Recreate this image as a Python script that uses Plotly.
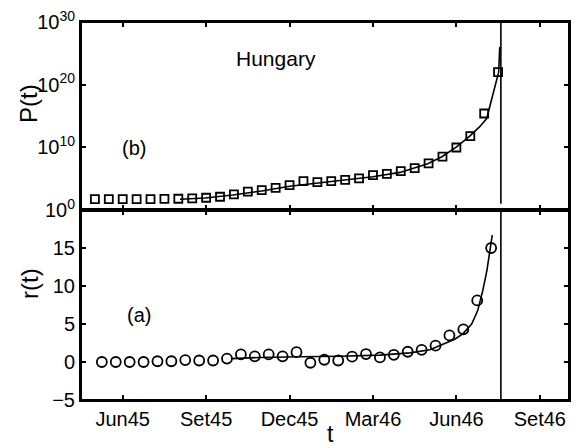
import plotly.graph_objects as go

# time in months since Jun 1945
t_P = [-1.0, -0.5, 0.0, 0.5, 1.0, 1.5, 2.0, 2.5, 3.0, 3.5, 4.0, 4.5, 5.0, 5.5, 6.0,
       6.5, 7.0, 7.5, 8.0, 8.5, 9.0, 9.5, 10.0, 10.5, 11.0, 11.5, 12.0, 12.5, 13.0, 13.5]
P_vals = [5.6e1, 5.6e1, 5.6e1, 5.6e1, 5.6e1, 5.9e1, 6.3e1, 7.2e1, 9.1e1, 1.3e2,
          3.2e2, 8.3e2, 1.5e3, 3.5e3, 9.5e3, 4.0e4, 2.9e4, 4.0e4, 6.3e4, 1.1e5,
          3.7e5, 6.0e5, 1.6e6, 5.0e6, 2.7e7, 3.2e8, 9.5e9, 6.3e11, 2.5e15, 1.0e22]

t_r = [-0.75, -0.25, 0.25, 0.75, 1.25, 1.75, 2.25, 2.75, 3.25, 3.75, 4.25, 4.75, 5.25,
       5.75, 6.25, 6.75, 7.25, 7.75, 8.25, 8.75, 9.25, 9.75, 10.25, 10.75, 11.25, 11.75,
       12.25, 12.75, 13.25]
r_vals = [0.0, 0.0, 0.0, 0.0, 0.1, 0.1, 0.25, 0.2, 0.2, 0.45, 1.0, 0.75, 1.0, 0.75, 1.3,
          -0.1, 0.3, 0.2, 0.7, 1.05, 0.6, 0.95, 1.35, 1.6, 2.15, 3.5, 4.3, 8.1, 15.0]

# fitted curves
fitP_t = [2.06, 2.96, 3.96, 5.0, 6.01, 6.98, 7.99, 9.0, 9.97, 10.97, 11.48, 12.02,
          12.48, 12.84, 13.09, 13.52, 13.56]
fitP_v = [5.2e1, 8.3e1, 2.5e2, 1.1e3, 6.3e3, 2.0e4, 5.6e4, 2.0e5, 1.0e6, 2.5e7,
          3.2e8, 1.3e10, 6.3e11, 2.0e13, 4.0e14, 1.0e22, 1.0e26]
fitr_t = [3.93, 4.93, 6.37, 7.81, 9.25, 10.33, 11.05, 11.51, 11.94, 12.23, 12.55,
          12.77, 12.95, 13.1, 13.2, 13.29]
fitr_v = [0.45, 0.6, 0.7, 0.75, 0.9, 1.2, 1.6, 2.3, 3.0, 3.7, 5.0, 6.8, 9.4, 12.1,
          14.3, 16.7]

t_end = 13.6

xtick_vals = [0, 3, 6, 9, 12, 15]
xtick_text = ["Jun45", "Set45", "Dec45", "Mar46", "Jun46", "Set46"]
ptick_vals = [1, 1e10, 1e20, 1e30]
ptick_text = ["10<sup>0</sup>", "10<sup>10</sup>", "10<sup>20</sup>", "10<sup>30</sup>"]
rtick_vals = [-5, 0, 5, 10, 15]

FONT = "Liberation Sans, Arial, Helvetica, sans-serif"

fig = go.Figure()

# top panel (P)
fig.add_trace(go.Scatter(x=fitP_t, y=fitP_v, mode="lines",
                         line=dict(color="black", width=1.6),
                         xaxis="x2", yaxis="y2", showlegend=False))
fig.add_trace(go.Scatter(x=t_P, y=P_vals, mode="markers",
                         marker=dict(symbol="square-open", size=8, color="black",
                                     line=dict(width=1.8, color="black")),
                         xaxis="x2", yaxis="y2", showlegend=False))
fig.add_trace(go.Scatter(x=[t_end, t_end], y=[1e1, 1e30], mode="lines",
                         line=dict(color="black", width=1.6),
                         xaxis="x2", yaxis="y2", showlegend=False))

# bottom panel (r)
fig.add_trace(go.Scatter(x=fitr_t, y=fitr_v, mode="lines",
                         line=dict(color="black", width=1.6),
                         xaxis="x", yaxis="y", showlegend=False))
fig.add_trace(go.Scatter(x=t_r, y=r_vals, mode="markers",
                         marker=dict(symbol="circle-open", size=10, color="black",
                                     line=dict(width=1.8, color="black")),
                         xaxis="x", yaxis="y", showlegend=False))
fig.add_trace(go.Scatter(x=[t_end, t_end], y=[-5, 20], mode="lines",
                         line=dict(color="black", width=1.6),
                         xaxis="x", yaxis="y", showlegend=False))

axis_common = dict(showline=True, linecolor="black", linewidth=2, mirror="allticks",
                   ticks="inside", ticklen=5, tickwidth=1.5, tickcolor="black",
                   showgrid=False, zeroline=False, automargin=False,
                   tickfont=dict(family=FONT, size=20, color="black"))

split = 0.5026
frame = dict(type="rect", x0=0, x1=1, y0=0, y1=1, line=dict(color="black", width=2),
             layer="above")


def px_ann(text, px, py, size, angle=0):
    return dict(text=text, showarrow=False, xref="paper", yref="paper",
                x=(px - 81) / 488, y=(400 - py) / 378, xanchor="center",
                yanchor="middle", textangle=angle, font=dict(family=FONT, size=size))


fig.update_layout(
    width=581, height=448,
    margin=dict(l=81, r=12, t=22, b=48, autoexpand=False),
    plot_bgcolor="white", paper_bgcolor="white",
    font=dict(family=FONT, color="black"),
    xaxis=dict(domain=[0, 1], anchor="y", range=[-1.5, 16.05],
               tickvals=xtick_vals, ticktext=xtick_text, **axis_common),
    yaxis=dict(domain=[0, split], anchor="x", range=[-5, 20],
               tickvals=rtick_vals, **axis_common),
    xaxis2=dict(domain=[0, 1], anchor="y2", range=[-1.5, 16.05], matches="x",
                tickvals=xtick_vals, showticklabels=False, **axis_common),
    yaxis2=dict(domain=[split, 1], anchor="x2", type="log", range=[0, 30],
                tickvals=ptick_vals, ticktext=ptick_text, **axis_common),
    shapes=[dict(frame, xref="x domain", yref="y domain"),
            dict(frame, xref="x2 domain", yref="y2 domain")],
    annotations=[
        px_ann("Hungary", 276, 58, 21),
        px_ann("(b)", 134, 148, 20),
        px_ann("(a)", 139, 315, 20),
        px_ann("P(t)", 28, 104, 24, -90),
        px_ann("r(t)", 29, 284, 24, -90),
        px_ann("t", 330, 434, 23),
    ],
)

fig.write_html("out.html", config={"displayModeBar": False},
               post_script="document.body.style.margin='0';document.body.style.overflow='hidden';")
